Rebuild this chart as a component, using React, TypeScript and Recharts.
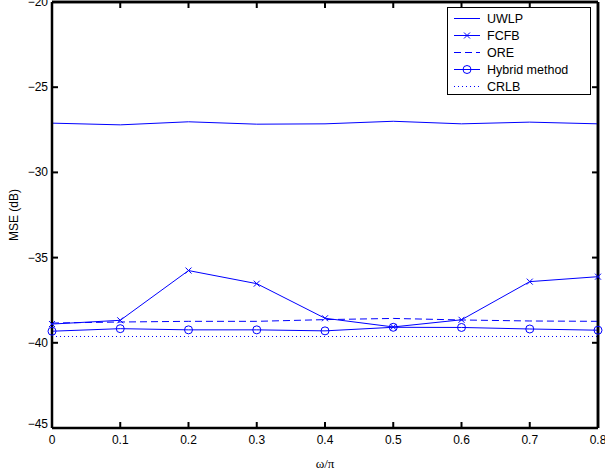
import React from "react";
import { ComposedChart, Line, ReferenceLine, Scatter, XAxis, YAxis } from "recharts";

const omega = [0, 0.1, 0.2, 0.3, 0.4, 0.5, 0.6, 0.7, 0.8];
const uwlp = [-27.11, -27.21, -27.03, -27.17, -27.15, -27.0, -27.15, -27.05, -27.15];
const fcfb = [-38.9, -38.68, -35.76, -36.53, -38.56, -39.07, -38.65, -36.41, -36.12];
const ore = [-38.84, -38.78, -38.74, -38.74, -38.64, -38.57, -38.66, -38.72, -38.74];
const hybrid = [-39.32, -39.17, -39.24, -39.24, -39.3, -39.09, -39.1, -39.19, -39.26];
const crlb = [-39.63, -39.63, -39.63, -39.63, -39.63, -39.63, -39.63, -39.63, -39.63];

const xTicks = [0, 0.1, 0.2, 0.3, 0.4, 0.5, 0.6, 0.7, 0.8];
const yTicks = [-45, -40, -35, -30, -25, -20];

const legendItems = [
  { name: "UWLP", dash: undefined, marker: "none" },
  { name: "FCFB", dash: undefined, marker: "x" },
  { name: "ORE", dash: "7 4", marker: "none" },
  { name: "Hybrid method", dash: undefined, marker: "o" },
  { name: "CRLB", dash: "1 3", marker: "none" },
];

const X_MIN = 0;
const X_MAX = 0.8;
const Y_MIN = -45;
const Y_MAX = -20;

const data = omega.map((w, i) => ({
  w,
  uwlp: uwlp[i],
  fcfb: fcfb[i],
  ore: ore[i],
  hybrid: hybrid[i],
  crlb: crlb[i],
}));

// tick mark anchor points, placed through the axis scales
const bottomTicks = xTicks.map((t) => ({ w: t, y: Y_MIN }));
const topTicks = xTicks.map((t) => ({ w: t, y: Y_MAX }));
const leftTicks = yTicks.map((t) => ({ w: X_MIN, y: t }));
const rightTicks = yTicks.map((t) => ({ w: X_MAX, y: t }));

const BLUE = "#0000ff";
const FONT = "'Liberation Sans', Arial, sans-serif";
const TICK_LEN = 6;

const fmt = (v: number) => (v < 0 ? "\u2212" + Math.abs(v) : String(v));

function BottomLabel(props: any) {
  const { x, y, payload } = props;
  return (
    <text x={x} y={y + 16} textAnchor="middle" fontSize={12} fontFamily={FONT} fill="#000">
      {fmt(payload.value)}
    </text>
  );
}

function LeftLabel(props: any) {
  const { x, y, payload } = props;
  const dy = payload.value === -45 ? -4 : 0;
  return (
    <text x={x - 4} y={y + 4 + dy} textAnchor="end" fontSize={12} fontFamily={FONT} fill="#000">
      {fmt(payload.value)}
    </text>
  );
}

function makeTick(dx: number, dy: number) {
  return function TickMark(props: any) {
    const { cx, cy } = props;
    if (cx == null || cy == null) return null;
    return <line x1={cx} y1={cy} x2={cx + dx * TICK_LEN} y2={cy + dy * TICK_LEN} stroke="#000" strokeWidth={2} />;
  };
}

const TickUp = makeTick(0, -1);
const TickDown = makeTick(0, 1);
const TickRight = makeTick(1, 0);
const TickLeft = makeTick(-1, 0);

function CrossDot(props: any) {
  const { cx, cy } = props;
  if (cx == null || cy == null) return null;
  const s = 3;
  return (
    <g>
      <line x1={cx - s} y1={cy - s} x2={cx + s} y2={cy + s} stroke={BLUE} strokeWidth={1} />
      <line x1={cx - s} y1={cy + s} x2={cx + s} y2={cy - s} stroke={BLUE} strokeWidth={1} />
    </g>
  );
}

function CircleDot(props: any) {
  const { cx, cy } = props;
  if (cx == null || cy == null) return null;
  return <circle cx={cx} cy={cy} r={4} fill="none" stroke={BLUE} strokeWidth={1} />;
}

function LegendBox() {
  return (
    <div
      style={{
        position: "absolute",
        left: 447,
        top: 7,
        width: 142,
        height: 86,
        border: "1.5px solid #000",
        background: "#fff",
        fontFamily: FONT,
        fontSize: 12.5,
      }}
    >
      {legendItems.map((it, i) => (
        <div key={it.name} style={{ position: "absolute", left: 5, top: 2 + i * 17, height: 17, display: "flex", alignItems: "center" }}>
          <svg width={28} height={17} style={{ display: "block" }}>
            <line x1={1} y1={8.5} x2={27} y2={8.5} stroke={BLUE} strokeWidth={1} strokeDasharray={it.dash} />
            {it.marker === "x" && (
              <g>
                <line x1={11} y1={5.5} x2={17} y2={11.5} stroke={BLUE} />
                <line x1={11} y1={11.5} x2={17} y2={5.5} stroke={BLUE} />
              </g>
            )}
            {it.marker === "o" && <circle cx={14} cy={8.5} r={4} fill="none" stroke={BLUE} />}
          </svg>
          <span style={{ marginLeft: 6, color: "#000", whiteSpace: "nowrap" }}>{it.name}</span>
        </div>
      ))}
    </div>
  );
}

export default function App() {
  const axes = { xAxisId: "bottom", yAxisId: "left" };
  return (
    <div style={{ position: "absolute", left: 0, top: 0, width: 605, height: 472, background: "#fff", overflow: "hidden" }}>
      <ComposedChart width={605} height={472} data={data} margin={{ top: 1, right: 6, bottom: 0, left: 0 }}>
        <XAxis
          xAxisId="bottom"
          dataKey="w"
          type="number"
          domain={[X_MIN, X_MAX]}
          ticks={xTicks}
          height={44}
          tickSize={0}
          tickMargin={0}
          tickLine={false}
          axisLine={{ stroke: "#000", strokeWidth: 2.5 }}
          tick={<BottomLabel />}
          interval={0}
          label={{ value: "\u03c9/\u03c0", position: "insideBottom", offset: 4, fill: "#000", fontSize: 13, fontFamily: "'Liberation Serif', 'Times New Roman', serif" }}
        />
        <XAxis
          xAxisId="top"
          orientation="top"
          dataKey="w"
          type="number"
          domain={[X_MIN, X_MAX]}
          ticks={xTicks}
          height={1}
          tickLine={false}
          axisLine={{ stroke: "#000", strokeWidth: 2.5 }}
          tick={false}
        />
        <YAxis
          yAxisId="left"
          type="number"
          domain={[Y_MIN, Y_MAX]}
          ticks={yTicks}
          width={52}
          tickSize={0}
          tickMargin={0}
          tickLine={false}
          axisLine={{ stroke: "#000", strokeWidth: 2.5 }}
          tick={<LeftLabel />}
          interval={0}
          label={{ value: "MSE (dB)", angle: -90, position: "insideLeft", offset: 14, fill: "#000", fontSize: 12, fontFamily: FONT, style: { textAnchor: "middle" } }}
        />
        <YAxis
          yAxisId="right"
          orientation="right"
          type="number"
          domain={[Y_MIN, Y_MAX]}
          ticks={yTicks}
          width={1}
          tickLine={false}
          axisLine={{ stroke: "#000", strokeWidth: 2.5 }}
          tick={false}
        />
        <ReferenceLine {...axes} y={Y_MAX} stroke="#000" strokeWidth={2.5} />
        <ReferenceLine {...axes} x={X_MAX} stroke="#000" strokeWidth={2.5} />
        <Line {...axes} dataKey="uwlp" name="UWLP" stroke={BLUE} strokeWidth={1} dot={false} isAnimationActive={false} />
        <Line {...axes} dataKey="fcfb" name="FCFB" stroke={BLUE} strokeWidth={1} dot={<CrossDot />} isAnimationActive={false} />
        <Line {...axes} dataKey="ore" name="ORE" stroke={BLUE} strokeWidth={1} strokeDasharray="7 4" dot={false} isAnimationActive={false} />
        <Line {...axes} dataKey="hybrid" name="Hybrid method" stroke={BLUE} strokeWidth={1} dot={<CircleDot />} isAnimationActive={false} />
        <Line {...axes} dataKey="crlb" name="CRLB" stroke={BLUE} strokeWidth={1} strokeDasharray="1 3" dot={false} isAnimationActive={false} />
        <Scatter {...axes} data={bottomTicks} dataKey="y" shape={<TickUp />} isAnimationActive={false} />
        <Scatter {...axes} data={topTicks} dataKey="y" shape={<TickDown />} isAnimationActive={false} />
        <Scatter {...axes} data={leftTicks} dataKey="y" shape={<TickRight />} isAnimationActive={false} />
        <Scatter {...axes} data={rightTicks} dataKey="y" shape={<TickLeft />} isAnimationActive={false} />
      </ComposedChart>
      <LegendBox />
    </div>
  );
}
